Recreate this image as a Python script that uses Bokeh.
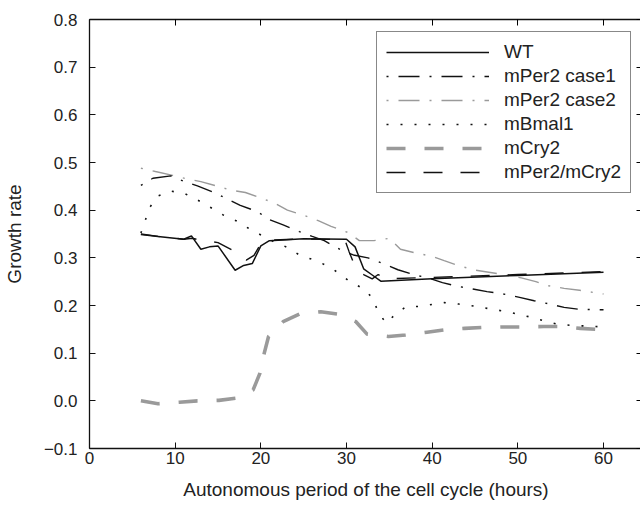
from bokeh.plotting import figure
from bokeh.models import LinearAxis, Range1d, Legend, LegendItem, FixedTicker
from bokeh.embed import file_html
from bokeh.resources import INLINE

# ---------------- data ----------------
x_ticks = [0, 10, 20, 30, 40, 50, 60]
x_tick_labels = ["0", "10", "20", "30", "40", "50", "60"]
y_ticks = [-0.1, 0.0, 0.1, 0.2, 0.3, 0.4, 0.5, 0.6, 0.7, 0.8]
y_tick_labels = ["\u22120.1", "0.0", "0.1", "0.2", "0.3", "0.4", "0.5", "0.6", "0.7", "0.8"]

wt_x = [6, 8, 11, 11.9, 13, 14, 15, 17, 18, 19, 20, 21, 25, 30, 31, 32, 33, 34, 40, 50, 60]
wt_y = [0.349, 0.345, 0.339, 0.346, 0.318, 0.323, 0.325, 0.274, 0.284, 0.288, 0.325, 0.336,
        0.340, 0.339, 0.323, 0.277, 0.264, 0.251, 0.256, 0.263, 0.270]

case1_x = [6, 7.4, 9.5, 11.1, 12.6, 14.7, 16.1, 17.6, 19.6, 21, 22.6, 24.5, 26, 27.4, 29.4,
           30.8, 32.5, 34.4, 36, 38, 39.5, 41.2, 42.8, 44.9, 46.4, 48.1, 50.2, 51.9, 53.5,
           55.4, 57.2, 60]
case1_y = [0.452, 0.467, 0.472, 0.460, 0.451, 0.436, 0.423, 0.410, 0.397, 0.380, 0.369, 0.355,
           0.345, 0.336, 0.316, 0.306, 0.300, 0.287, 0.275, 0.264, 0.258, 0.248, 0.241, 0.234,
           0.229, 0.225, 0.217, 0.210, 0.204, 0.196, 0.192, 0.191]

case2_x = [6, 7.7, 9.7, 11.3, 13, 15, 16.5, 18.2, 20.1, 21.7, 23.1, 25.2, 26.7, 28.2, 30.2,
           31.5, 33.2, 35, 36.3, 37.9, 40, 41.4, 43.2, 45.1, 48, 50.4, 52.1, 53.4, 55.4, 57.2, 60]
case2_y = [0.488, 0.481, 0.473, 0.466, 0.460, 0.450, 0.442, 0.437, 0.425, 0.414, 0.400, 0.388,
           0.378, 0.366, 0.353, 0.336, 0.336, 0.341, 0.318, 0.311, 0.303, 0.294, 0.283, 0.274,
           0.266, 0.258, 0.250, 0.242, 0.236, 0.232, 0.224]

bmal_x = [6, 6.5, 7, 8, 9.5, 11.1, 12.65, 14.1, 15.6, 17.1, 18.56, 20, 21.5, 23.1, 24.5, 26.1,
          27.7, 29.1, 30.4, 31.9, 33.1, 33.7, 34.65, 35.6, 36.9, 38.4, 41.4, 43.1, 44.8, 46.4,
          48.1, 49.75, 51.4, 53, 54.6, 56.4, 58, 60]
bmal_y = [0.352, 0.378, 0.405, 0.430, 0.440, 0.435, 0.421, 0.406, 0.390, 0.378, 0.362, 0.348,
          0.334, 0.322, 0.306, 0.296, 0.284, 0.268, 0.250, 0.236, 0.215, 0.185, 0.163, 0.180,
          0.197, 0.198, 0.206, 0.203, 0.199, 0.194, 0.189, 0.183, 0.176, 0.168, 0.161, 0.158,
          0.157, 0.155]

cry2_x = [6, 8, 10.5, 12.6, 15.1, 17.2, 19.1, 19.9, 20.4, 20.9, 22.6, 24.5, 27, 29, 31.1, 32.4,
          34.9, 36.9, 39.4, 41.5, 43.8, 45.9, 48.2, 50.3, 53, 55, 57.3, 60]
cry2_y = [0.0, -0.006, -0.003, 0.0, 0.001, 0.006, 0.023, 0.058, 0.100, 0.135, 0.166, 0.182,
          0.187, 0.182, 0.166, 0.140, 0.135, 0.138, 0.144, 0.149, 0.152, 0.154, 0.155, 0.155,
          0.156, 0.156, 0.152, 0.149]

pc_x = [6, 8, 11, 12, 13, 15, 16.7, 18.3, 19.2, 20, 21, 25, 29.8, 30.3, 31.1, 32, 33, 33.7,
        34.6, 40, 50, 60]
pc_y = [0.350, 0.345, 0.339, 0.341, 0.337, 0.332, 0.316, 0.295, 0.305, 0.330, 0.337, 0.340,
        0.338, 0.313, 0.277, 0.265, 0.256, 0.265, 0.256, 0.259, 0.265, 0.271]

labels = ["WT", "mPer2 case1", "mPer2 case2", "mBmal1", "mCry2", "mPer2/mCry2"]

# ---------------- styling ----------------
FONT = "Liberation Sans"
BLACK = "#111111"
GRAY = "#9a9a9a"

p = figure(frame_width=553, frame_height=429, output_backend="svg", toolbar_location=None,
           x_range=Range1d(0, 64.55), y_range=Range1d(-0.1, 0.8),
           min_border_left=85, min_border_top=19, min_border_bottom=58, min_border_right=0,
           background_fill_color="white", border_fill_color="white")
p.grid.visible = False
p.outline_line_color = None

for ax in (p.xaxis[0], p.yaxis[0]):
    ax.major_tick_in = 6
    ax.major_tick_out = 0
    ax.minor_tick_line_color = None
    ax.axis_line_color = BLACK
    ax.axis_line_width = 1.3
    ax.major_tick_line_color = BLACK
    ax.major_label_text_font = FONT
    ax.major_label_text_font_size = "17px"
    ax.major_label_text_color = "#222222"
    ax.axis_label_text_font = FONT
    ax.axis_label_text_font_size = "19px"
    ax.axis_label_text_font_style = "normal"
    ax.axis_label_text_color = "#222222"

p.xaxis[0].ticker = FixedTicker(ticks=x_ticks)
p.xaxis[0].major_label_overrides = dict(zip(x_ticks, x_tick_labels))
p.xaxis[0].major_label_standoff = 3
p.xaxis[0].axis_label = "Autonomous period of the cell cycle (hours)"
p.xaxis[0].axis_label_standoff = 12

p.yaxis[0].ticker = FixedTicker(ticks=y_ticks)
p.yaxis[0].major_label_overrides = dict(zip(y_ticks, y_tick_labels))
p.yaxis[0].major_label_standoff = 12
p.yaxis[0].axis_label = "Growth rate"
p.yaxis[0].axis_label_standoff = 16

# mirror axes (top / right) with inward ticks, labels not drawn
top_ax = LinearAxis(ticker=FixedTicker(ticks=x_ticks), major_tick_in=6, major_tick_out=0,
                    minor_tick_line_color=None, major_label_text_color=None,
                    major_label_text_font_size="1px", major_label_standoff=0,
                    axis_line_color=BLACK, axis_line_width=1.3)
right_ax = LinearAxis(ticker=FixedTicker(ticks=y_ticks), major_tick_in=6, major_tick_out=0,
                      minor_tick_line_color=None, major_label_text_color=None,
                      major_label_text_font_size="1px", major_label_standoff=0,
                      axis_line_color=None)
p.add_layout(top_ax, "above")
p.add_layout(right_ax, "right")

r_cry2 = p.line(cry2_x, cry2_y, line_color=GRAY, line_width=3.6, line_dash="19 19")
r_bmal = p.line(bmal_x, bmal_y, line_color=BLACK, line_width=1.6, line_dash="2 12")
r_case2 = p.line(case2_x, case2_y, line_color=GRAY, line_width=1.4, line_dash="2 10 21 10")
r_case1 = p.line(case1_x, case1_y, line_color=BLACK, line_width=1.4, line_dash="2 10 21 10")
r_pc = p.line(pc_x, pc_y, line_color=BLACK, line_width=1.4, line_dash="19 18")
r_wt = p.line(wt_x, wt_y, line_color=BLACK, line_width=1.5)

renderers = [r_wt, r_case1, r_case2, r_bmal, r_cry2, r_pc]
legend = Legend(items=[LegendItem(label=l, renderers=[r]) for l, r in zip(labels, renderers)],
                location=(287, 255), padding=9, spacing=2, glyph_width=103, glyph_height=22,
                label_height=22, label_standoff=15, label_text_font=FONT,
                label_text_font_size="19px", label_text_color="#222222",
                border_line_color=BLACK, border_line_width=1.3, margin=0,
                background_fill_color="white", background_fill_alpha=1.0)
p.add_layout(legend, "center")

open("out.html", "w").write(file_html(p, INLINE))
